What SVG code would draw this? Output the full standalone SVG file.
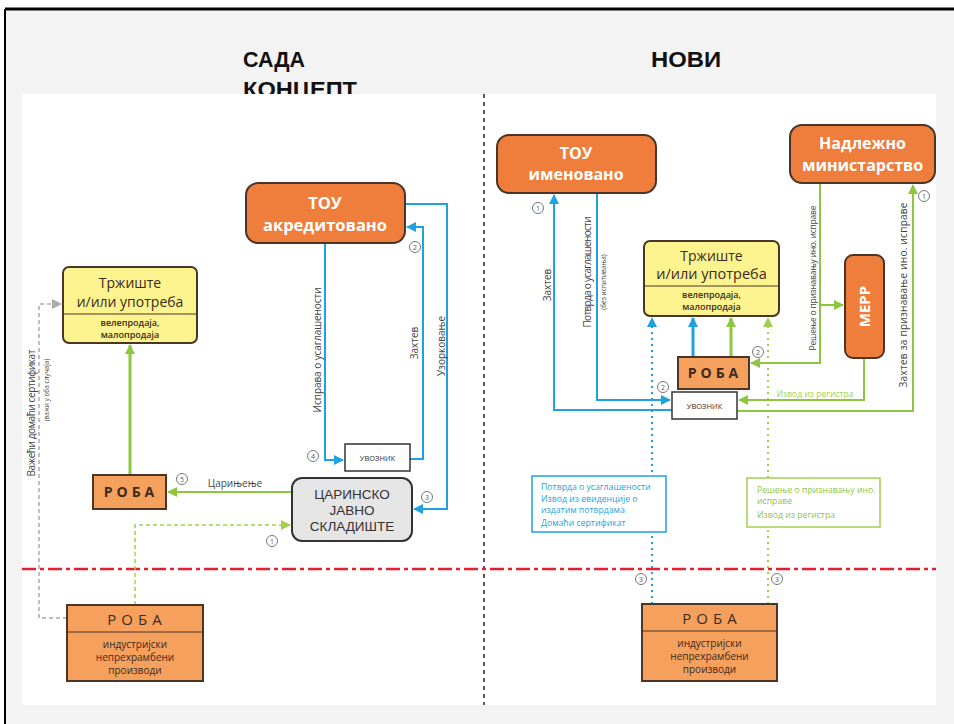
<svg xmlns="http://www.w3.org/2000/svg" width="954" height="724" viewBox="0 0 954 724">
<defs>
<style>
.hdr{font-family:"Liberation Sans",Arial,sans-serif;font-weight:bold;font-size:22px;fill:#111}
.t{font-family:"Open Sans","Noto Sans",sans-serif}
.boxo{fill:#ef7d3c;stroke:#4a3526;stroke-width:2}
.boxr{fill:#f6a05e;stroke:#4a3526;stroke-width:2}
.boxy{fill:#fdf490;stroke:#4a3526;stroke-width:2}
.boxw{fill:#fff;stroke:#333;stroke-width:1.5}
.wt{fill:#fff;font-weight:bold;text-anchor:middle}
.dk{fill:#3b2a1c;text-anchor:middle}
.blue{fill:none;stroke:#1ea3e0;stroke-width:2}
.green{fill:none;stroke:#8dc63f;stroke-width:2}
.bdot{fill:none;stroke:#1ea3e0;stroke-width:2;stroke-dasharray:2 4}
.gdot{fill:none;stroke:#a3cf4f;stroke-width:2;stroke-dasharray:2 4}
.gdash{fill:none;stroke:#a3cf4f;stroke-width:1.5;stroke-dasharray:4 3}
.graydash{fill:none;stroke:#aaa;stroke-width:1.5;stroke-dasharray:4 3}
.lbl{font-family:"Open Sans","Noto Sans",sans-serif;fill:#444;text-anchor:middle}
.num circle{fill:#fff;stroke:#777;stroke-width:1}
.num text{font-family:"Open Sans",sans-serif;font-size:7px;fill:#555;text-anchor:middle}
.cj{font-family:"Liberation Sans",Arial,sans-serif;font-size:13.5px;fill:#333;text-anchor:middle}
</style>
<marker id="ab" markerWidth="10" markerHeight="10" refX="9" refY="5" orient="auto" markerUnits="userSpaceOnUse"><path d="M0,0 L10,5 L0,10 Z" fill="#1ea3e0"/></marker>
<marker id="ag" markerWidth="10" markerHeight="10" refX="9" refY="5" orient="auto" markerUnits="userSpaceOnUse"><path d="M0,0 L10,5 L0,10 Z" fill="#8dc63f"/></marker>
<marker id="agl" markerWidth="10" markerHeight="10" refX="9" refY="5" orient="auto" markerUnits="userSpaceOnUse"><path d="M0,0 L10,5 L0,10 Z" fill="#a3cf4f"/></marker>
<marker id="agr" markerWidth="10" markerHeight="10" refX="9" refY="5" orient="auto" markerUnits="userSpaceOnUse"><path d="M0,0 L10,5 L0,10 Z" fill="#aaa"/></marker>
</defs>
<rect x="0" y="0" width="954" height="724" fill="#fff"/>
<rect x="5" y="9" width="949" height="715" fill="#f3f3f3"/>
<line x1="5" y1="9" x2="954" y2="9" stroke="#000" stroke-width="3"/>
<line x1="5" y1="9" x2="5" y2="724" stroke="#000" stroke-width="2"/>
<text class="hdr" x="243" y="67" textLength="62" lengthAdjust="spacingAndGlyphs">САДА</text>
<text class="hdr" x="243" y="97" textLength="114" lengthAdjust="spacingAndGlyphs">КОНЦЕПТ</text>
<text class="hdr" x="651" y="67" textLength="70" lengthAdjust="spacingAndGlyphs">НОВИ</text>
<rect x="22" y="94" width="914" height="611" fill="#fff"/>
<line x1="484" y1="94" x2="484" y2="705" stroke="#222" stroke-width="1.5" stroke-dasharray="4 4"/>
<line x1="22" y1="569" x2="936" y2="569" stroke="#e5202e" stroke-width="2.5" stroke-dasharray="14 4 4 4"/>

<g id="connectors">
<path class="green" style="stroke-width:3" d="M130,475 V345" marker-end="url(#ag)"/>
<path class="green" d="M292,492 H168" marker-end="url(#ag)"/>
<path class="gdash" d="M135,605 V525 H290" marker-end="url(#agl)"/>
<path class="graydash" d="M67,618 H39 V304 H61" marker-end="url(#agr)"/>
<path class="blue" d="M325,243 V460 H343" marker-end="url(#ab)"/>
<path class="blue" d="M410,459 H423 V227 H407" marker-end="url(#ab)"/>
<path class="blue" d="M405,204 H447 V509 H414" marker-end="url(#ab)"/>

<path class="blue" d="M672,410 H554 V195" marker-end="url(#ab)"/>
<path class="blue" d="M597,193 V400 H670" marker-end="url(#ab)"/>
<path class="blue" style="stroke-width:3" d="M693,357 V318" marker-end="url(#ab)"/>
<path class="green" style="stroke-width:3" d="M731,357 V318" marker-end="url(#ag)"/>
<path class="bdot" d="M652,604 V318" marker-end="url(#ab)"/>
<path class="gdot" d="M768,604 V318" marker-end="url(#agl)"/>
<path class="green" d="M820,183 V363 H751" marker-end="url(#ag)"/>
<path class="green" d="M820,305 H843" marker-end="url(#ag)"/>
<path class="green" d="M864,358 V400 H739" marker-end="url(#ag)"/>
<path class="green" d="M737,411 H913 V185" marker-end="url(#ag)"/>

<text class="lbl" font-size="10" transform="translate(321,350) rotate(-90)" textLength="125">Исправа о усаглашености</text>
<text class="lbl" font-size="10" transform="translate(418,343) rotate(-90)">Захтев</text>
<text class="lbl" font-size="10" transform="translate(445,346) rotate(-90)">Узорковање</text>
<text class="lbl" font-size="10" x="235" y="487">Царињење</text>
<text class="lbl" font-size="10" transform="translate(35,413) rotate(-90)" textLength="127">Важећи домаћи сертификат</text>
<text class="lbl" font-size="6.5" transform="translate(49,390) rotate(-90)">(важи у оба случаја)</text>
<text class="lbl" font-size="10" transform="translate(551,285) rotate(-90)">Захтев</text>
<text class="lbl" font-size="10" transform="translate(591,272) rotate(-90)" textLength="111">Потврда о усаглашености</text>
<text class="lbl" font-size="6.5" transform="translate(606,282) rotate(-90)">(без испитивања)</text>
<text class="lbl" font-size="8.5" transform="translate(816,278) rotate(-90)" textLength="145">Решење о признавању ино. исправе</text>
<text class="lbl" font-size="10" transform="translate(907,295) rotate(-90)" textLength="185">Захтев за признавање ино. исправе</text>
<text class="lbl" font-size="8.5" x="815" y="397" style="fill:#a3cf4f" textLength="77">Извод из регистра</text>
</g>

<g id="nums">
<g class="num"><circle cx="415" cy="247" r="5.5"/><text x="415" y="249.5">2</text></g>
<g class="num"><circle cx="313" cy="456" r="5.5"/><text x="313" y="458.5">4</text></g>
<g class="num"><circle cx="427" cy="497" r="5.5"/><text x="427" y="499.5">3</text></g>
<g class="num"><circle cx="182" cy="479" r="5.5"/><text x="182" y="481.5">5</text></g>
<g class="num"><circle cx="272" cy="541" r="5.5"/><text x="272" y="543.5">1</text></g>
<g class="num"><circle cx="538" cy="208" r="5.5"/><text x="538" y="210.5">1</text></g>
<g class="num"><circle cx="663" cy="387" r="5.5"/><text x="663" y="389.5">2</text></g>
<g class="num"><circle cx="758" cy="352" r="5.5"/><text x="758" y="354.5">2</text></g>
<g class="num"><circle cx="924" cy="196" r="5.5"/><text x="924" y="198.5">1</text></g>
<g class="num"><circle cx="641" cy="579" r="5.5"/><text x="641" y="581.5">3</text></g>
<g class="num"><circle cx="777" cy="579" r="5.5"/><text x="777" y="581.5">3</text></g>
</g>

<g id="tou-akred">
<rect class="boxo" x="246" y="183" width="159" height="60" rx="12"/>
<text class="t wt" x="325" y="209" font-size="16.5">ТОУ</text>
<text class="t wt" x="325" y="231" font-size="16.5">акредитовано</text>
</g>
<g id="market-left">
<rect class="boxy" x="63" y="267" width="134" height="76" rx="6"/>
<text class="t dk" x="130" y="288" font-size="14">Тржиште</text>
<text class="t dk" x="130" y="307" font-size="14">и/или употреба</text>
<line x1="63" y1="314" x2="197" y2="314" stroke="#4a3526" stroke-width="1"/>
<text class="t dk" x="130" y="326" font-size="9" font-weight="600">велепродаја,</text>
<text class="t dk" x="130" y="338" font-size="9" font-weight="600">малопродаја</text>
</g>
<g id="uvoznik-left">
<rect class="boxw" x="345" y="444" width="65" height="27"/>
<text class="t dk" x="377.5" y="460.5" font-size="7.5">УВОЗНИК</text>
</g>
<g id="carinsko">
<rect x="292" y="478" width="120" height="63" rx="10" fill="#e5e5e5" stroke="#333" stroke-width="2"/>
<text class="cj" x="352" y="499">ЦАРИНСКО</text>
<text class="cj" x="352" y="515">ЈАВНО</text>
<text class="cj" x="352" y="531">СКЛАДИШТЕ</text>
</g>
<g id="roba-left">
<rect class="boxr" x="93" y="475" width="73" height="34"/>
<text class="t dk" x="131" y="497" font-size="14" font-weight="bold" letter-spacing="4">РОБА</text>
</g>
<g id="roba-bottom-left">
<rect class="boxr" x="67" y="605" width="136" height="76"/>
<line x1="67" y1="632" x2="203" y2="632" stroke="#4a3526" stroke-width="1.2"/>
<text class="t dk" x="137" y="625" font-size="15" letter-spacing="5">РОБА</text>
<text class="t dk" x="135" y="648" font-size="10">индустријски</text>
<text class="t dk" x="135" y="661" font-size="10">непрехрамбени</text>
<text class="t dk" x="135" y="674" font-size="10">производи</text>
</g>

<g id="tou-imen">
<rect class="boxo" x="497" y="135" width="159" height="58" rx="12"/>
<text class="t wt" x="576" y="159" font-size="16">ТОУ</text>
<text class="t wt" x="576" y="180" font-size="16">именовано</text>
</g>
<g id="ministarstvo">
<rect class="boxo" x="790" y="125" width="145" height="58" rx="12"/>
<text class="t wt" x="862.5" y="149" font-size="16">Надлежно</text>
<text class="t wt" x="862.5" y="171" font-size="16">министарство</text>
</g>
<g id="market-right">
<rect class="boxy" x="644" y="241" width="135" height="75" rx="6"/>
<text class="t dk" x="711.5" y="261" font-size="14">Тржиште</text>
<text class="t dk" x="711.5" y="279" font-size="14.5">и/или употреба</text>
<line x1="644" y1="286" x2="779" y2="286" stroke="#4a3526" stroke-width="1"/>
<text class="t dk" x="711.5" y="298" font-size="9" font-weight="600">велепродаја,</text>
<text class="t dk" x="711.5" y="310" font-size="9" font-weight="600">малопродаја</text>
</g>
<g id="merr">
<rect class="boxo" x="845" y="255" width="39" height="103" rx="8"/>
<text class="t wt" font-size="15" transform="translate(869.5,306.5) rotate(-90)">МЕРР</text>
</g>
<g id="roba-right">
<rect class="boxr" x="678" y="357" width="71" height="32"/>
<text class="t dk" x="715" y="378" font-size="14" font-weight="bold" letter-spacing="4">РОБА</text>
</g>
<g id="uvoznik-right">
<rect class="boxw" x="672" y="392" width="65" height="27"/>
<text class="t dk" x="704.5" y="408.5" font-size="7.5">УВОЗНИК</text>
</g>
<g id="info-blue">
<rect x="532" y="476" width="134" height="56" fill="#fff" stroke="#1ea3e0" stroke-width="1.5"/>
<g class="t" font-size="8.7" fill="#1ea3e0">
<text x="541" y="490">Потврда о усаглашености</text>
<text x="541" y="502">Извод из евиденције о</text>
<text x="541" y="513">издатим потврдама</text>
<text x="541" y="526">Домаћи сертификат</text>
</g>
</g>
<g id="info-green">
<rect x="747" y="478" width="133" height="49" fill="#fff" stroke="#a3cf4f" stroke-width="1.5"/>
<g class="t" font-size="8.7" fill="#8dc63f">
<text x="757" y="493">Решење о признавању ино.</text>
<text x="757" y="504">исправе</text>
<text x="757" y="518">Извод из регистра</text>
</g>
</g>
<g id="roba-bottom-right">
<rect class="boxr" x="642" y="604" width="135" height="77"/>
<line x1="642" y1="631" x2="777" y2="631" stroke="#4a3526" stroke-width="1.2"/>
<text class="t dk" x="712" y="624" font-size="15" letter-spacing="5">РОБА</text>
<text class="t dk" x="709.5" y="647" font-size="10">индустријски</text>
<text class="t dk" x="709.5" y="660" font-size="10">непрехрамбени</text>
<text class="t dk" x="709.5" y="673" font-size="10">производи</text>
</g>
</svg>
